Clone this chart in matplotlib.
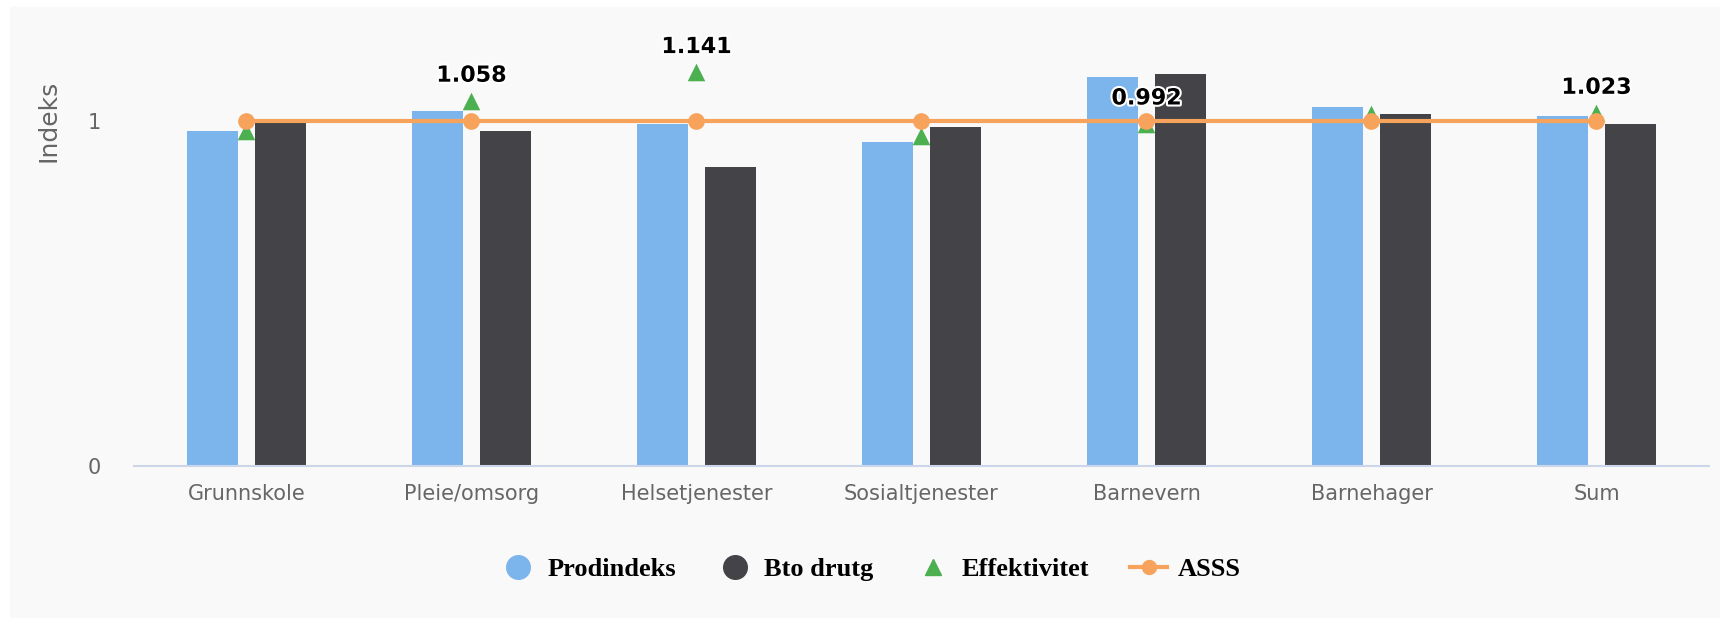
import numpy as np
import matplotlib
matplotlib.use("Agg")
import matplotlib.pyplot as plt
import matplotlib.patches as patches
import matplotlib.patheffects as pe
from matplotlib.lines import Line2D

# data
kategorier = ["Grunnskole", "Pleie/omsorg", "Helsetjenester", "Sosialtjenester",
              "Barnevern", "Barnehager", "Sum"]
prodindeks = [0.972, 1.029, 0.991, 0.940, 1.128, 1.041, 1.015]
bto_drutg = [1.000, 0.972, 0.866, 0.983, 1.135, 1.021, 0.991]
effektivitet = [0.972, 1.058, 1.141, 0.956, 0.992, 1.020, 1.023]
asss = [1, 1, 1, 1, 1, 1, 1]
vis_etikett = [False, True, True, False, True, False, True]

BLA = "#7cb5ec"
MORK = "#434348"
GRONN = "#4caf50"
ORANSJE = "#f7a35c"
BG = "#f9f9f9"

sans = ["DejaVu Sans"]

fig = plt.figure(figsize=(17.2, 6.18), dpi=100)
fig.patch.set_facecolor("white")
# graa bakgrunn med hvit kant oppe og til venstre
fig.patches.append(patches.Rectangle((10/1720, 0), 1 - 10/1720, 1 - 7/618,
                                     transform=fig.transFigure, color=BG, zorder=-10))

ax = fig.add_axes([134/1720, 1 - 466/618, 1575/1720, 445/618])
ax.patch.set_alpha(0)

x = np.arange(len(kategorier))
bw = 0.229
off = 0.151
ax.bar(x - off, prodindeks, bw, color=BLA, zorder=2)
ax.bar(x + off, bto_drutg, bw, color=MORK, zorder=2)
ax.scatter(x, effektivitet, marker="^", s=160, color=GRONN, zorder=3, linewidths=0)
ax.plot(x, asss, color=ORANSJE, lw=3, marker="o", ms=11, zorder=4)

for xi, v, vis in zip(x, effektivitet, vis_etikett):
    if vis:
        t = ax.annotate(f"{v:.3f}", (xi, v), xytext=(0, 11), textcoords="offset points",
                        ha="center", va="bottom", fontsize=16, fontweight="bold",
                        family=sans, color="black", zorder=6)
        t.set_path_effects([pe.withStroke(linewidth=3, foreground="white")])

ax.set_xlim(-0.5, len(kategorier) - 0.5)
ax.set_ylim(0, 445/345)
ax.set_yticks([0, 1])
ax.set_yticklabels(["0", "1"])
ax.set_xticks(x)
ax.set_xticklabels(kategorier)
for lab in ax.get_xticklabels() + ax.get_yticklabels():
    lab.set_family(sans)
    lab.set_fontsize(15)
    lab.set_color("#666666")
ax.tick_params(axis="x", length=0, pad=13)
ax.tick_params(axis="y", length=0, pad=24)
for s in ["top", "right", "left"]:
    ax.spines[s].set_visible(False)
ax.spines["bottom"].set_color("#ccd6eb")
ax.spines["bottom"].set_linewidth(1.5)

fig.text(49/1720, 1 - 121/618, "Indeks", rotation=90, ha="center", va="center",
         fontsize=18, color="#666666", family=sans)

handles = [
    Line2D([], [], ls="none", marker="o", ms=17, color=BLA),
    Line2D([], [], ls="none", marker="o", ms=17, color=MORK),
    Line2D([], [], ls="none", marker="^", ms=12, color=GRONN),
    Line2D([], [], color=ORANSJE, lw=3, marker="o", ms=10),
]
fig.legend(handles, ["Prodindeks", "Bto drutg", "Effektivitet", "ASSS"],
           loc="center", bbox_to_anchor=(0.506, 1 - 569/618), ncol=4, frameon=False,
           prop={"family": ["Liberation Serif", "DejaVu Serif"], "weight": "bold", "size": 19},
           handlelength=1.4, handletextpad=0.4, columnspacing=1.55)

fig.savefig("out.png", dpi=100, facecolor=fig.get_facecolor())
